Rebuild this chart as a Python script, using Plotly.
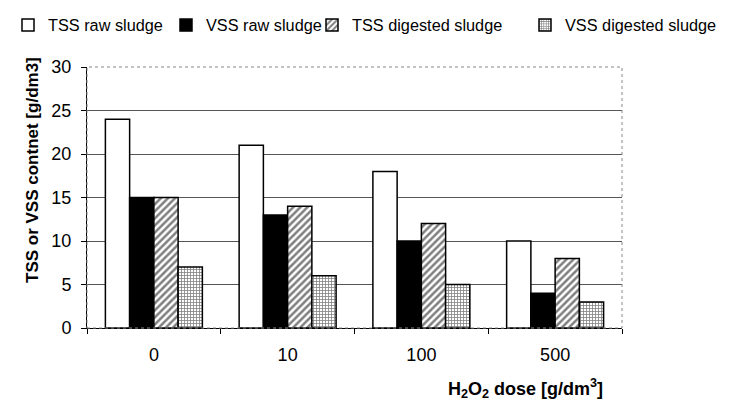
import plotly.graph_objects as go

categories = ["0", "10", "100", "500"]
tss_raw = [24, 21, 18, 10]
vss_raw = [15, 13, 10, 4]
tss_dig = [15, 14, 12, 8]
vss_dig = [7, 6, 5, 3]
y_ticks = [0, 5, 10, 15, 20, 25, 30]

fig = go.Figure()
line = dict(color="black", width=1.5)
fig.add_bar(name="TSS raw sludge", x=categories, y=tss_raw, legend="legend",
            marker=dict(color="white", line=line))
fig.add_bar(name="VSS raw sludge", x=categories, y=vss_raw, legend="legend2",
            marker=dict(color="black", line=line))
fig.add_bar(name="TSS digested sludge", x=categories, y=tss_dig, legend="legend3",
            marker=dict(color="white", line=line,
                        pattern=dict(shape="/", fgcolor="black", bgcolor="white", size=5, solidity=0.5)))
fig.add_bar(name="VSS digested sludge", x=categories, y=vss_dig, legend="legend4",
            marker=dict(color="white", line=line,
                        pattern=dict(shape="+", fgcolor="black", bgcolor="white", size=3, solidity=0.45)))

def leg(x):
    return dict(orientation="h", x=x, y=1.0, xref="container", yref="container",
                xanchor="left", yanchor="top", font=dict(size=16.3),
                itemwidth=30, bgcolor="rgba(0,0,0,0)")

fig.update_layout(
    width=749, height=404,
    margin=dict(l=79, r=135, t=59, b=84, autoexpand=False),
    plot_bgcolor="white", paper_bgcolor="white",
    font=dict(family="Arial, Liberation Sans", size=18, color="black"),
    barmode="group", bargap=0.275, bargroupgap=0,
    showlegend=True,
    legend=leg(0.0), legend2=leg(158 / 749), legend3=leg(304 / 749), legend4=leg(517 / 749),
    xaxis=dict(showline=True, linecolor="black", linewidth=1, ticks="outside",
               ticklen=5, tickcolor="black", mirror=False, tickson="boundaries",
               tickfont=dict(size=18), ticklabelstandoff=10),
    yaxis=dict(range=[0, 30], tickvals=y_ticks, showline=True, linecolor="black",
               linewidth=1, ticks="outside", ticklen=5, tickcolor="black",
               showgrid=True, gridcolor="#555555", gridwidth=1,
               tickfont=dict(size=18), ticklabelstandoff=6),
)
fig.add_shape(type="rect", xref="paper", yref="paper", x0=0, y0=0, x1=1, y1=1,
              line=dict(color="#888888", width=1, dash="dot"))
fig.add_annotation(text="<b>TSS or VSS contnet [g/dm3]</b>", textangle=-90,
                   xref="paper", yref="paper", x=-0.103, y=0.605,
                   xanchor="center", yanchor="middle",
                   showarrow=False, font=dict(size=17))
fig.add_annotation(text="<b>H<sub>2</sub>O<sub>2</sub> dose [g/dm<sup>3</sup>]</b>",
                   xref="paper", yref="paper", x=0.82, y=-0.23,
                   xanchor="center", yanchor="middle",
                   showarrow=False, font=dict(size=18))

fig.write_html("out.html")
